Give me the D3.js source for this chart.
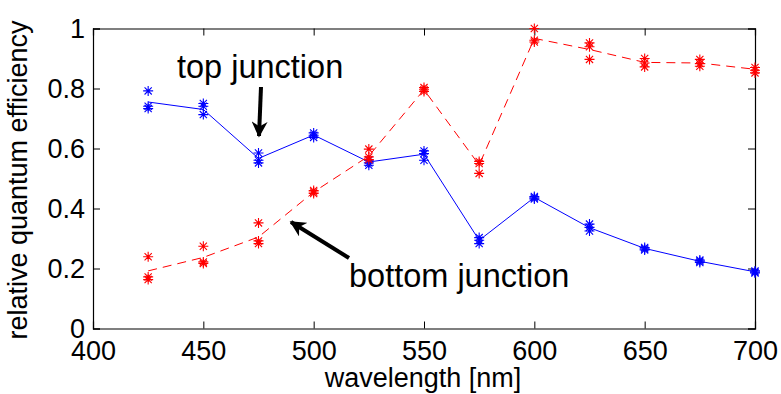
<!DOCTYPE html>
<html>
<head>
<meta charset="utf-8">
<script src="https://cdn.jsdelivr.net/npm/d3@7"></script>
<style>
  body { margin: 0; background: #fff; }
  svg text { font-family: "Liberation Sans", Arial, sans-serif; fill: #000; }
</style>
</head>
<body>
<div id="chart"></div>
<script>
// wavelengths of the measurements [nm]
var wavelengths = [425, 450, 475, 500, 525, 550, 575, 600, 625, 650, 675, 700];

// top junction: line and the three measured points at each wavelength
var topLine = [0.755, 0.730, 0.567, 0.645, 0.555, 0.581, 0.294, 0.437, 0.336, 0.267, 0.224, 0.189];
var topRun1 = [0.792, 0.750, 0.585, 0.652, 0.561, 0.592, 0.303, 0.440, 0.348, 0.270, 0.228, 0.192];
var topRun2 = [0.741, 0.741, 0.561, 0.644, 0.552, 0.583, 0.294, 0.436, 0.337, 0.266, 0.224, 0.188];
var topRun3 = [0.733, 0.713, 0.552, 0.637, 0.544, 0.561, 0.283, 0.432, 0.325, 0.262, 0.220, 0.185];

// bottom junction
var bottomLine = [0.192, 0.237, 0.305, 0.455, 0.575, 0.796, 0.545, 0.967, 0.930, 0.887, 0.885, 0.864];
var bottomRun1 = [0.239, 0.274, 0.352, 0.460, 0.598, 0.803, 0.557, 1.000, 0.952, 0.900, 0.897, 0.870];
var bottomRun2 = [0.172, 0.222, 0.292, 0.455, 0.572, 0.796, 0.550, 0.961, 0.939, 0.885, 0.883, 0.861];
var bottomRun3 = [0.163, 0.217, 0.283, 0.450, 0.563, 0.790, 0.517, 0.955, 0.897, 0.872, 0.874, 0.852];

var xTicks = [400, 450, 500, 550, 600, 650, 700];
var yTicks = [0, 0.2, 0.4, 0.6, 0.8, 1];

var svgWidth = 781;
var svgHeight = 394;
// plot box (note: "top" is a reserved window global, so use plotTop etc.)
var plotLeft = 93, plotRight = 755, plotTop = 28.5, plotBottom = 328.5;

var svg = d3.select('#chart').append('svg')
  .attr('width', svgWidth)
  .attr('height', svgHeight);

var xScale = d3.scaleLinear().domain([400, 700]).range([plotLeft, plotRight]);
var yScale = d3.scaleLinear().domain([0, 1]).range([plotBottom, plotTop]);

// axes, MATLAB style: ticks pointing inwards on all four sides
var tickLen = 7;
var fontSize = 27;

var xBottom = svg.append('g')
  .attr('transform', 'translate(0,' + plotBottom + ')')
  .call(d3.axisBottom(xScale).tickValues(xTicks).tickSize(-tickLen).tickPadding(12).tickFormat(d3.format('d')));
var xTop = svg.append('g')
  .attr('transform', 'translate(0,' + plotTop + ')')
  .call(d3.axisTop(xScale).tickValues(xTicks).tickSize(-tickLen).tickFormat(''));
var yLeft = svg.append('g')
  .attr('transform', 'translate(' + plotLeft + ',0)')
  .call(d3.axisLeft(yScale).tickValues(yTicks).tickSize(-tickLen).tickPadding(8).tickFormat(d3.format('')));
var yRight = svg.append('g')
  .attr('transform', 'translate(' + plotRight + ',0)')
  .call(d3.axisRight(yScale).tickValues(yTicks).tickSize(-tickLen).tickFormat(''));

[xBottom, xTop, yLeft, yRight].forEach(function(g) {
  g.select('.domain').attr('stroke', '#000').attr('stroke-width', 1.2);
  g.selectAll('.tick line').attr('stroke', '#000').attr('stroke-width', 1);
  g.selectAll('.tick text').attr('font-size', fontSize).attr('font-family', '"Liberation Sans", Arial, sans-serif');
});

// axis labels
svg.append('text')
  .attr('x', (plotLeft + plotRight) / 2 - 1)
  .attr('y', 387)
  .attr('text-anchor', 'middle')
  .attr('font-size', fontSize)
  .text('wavelength [nm]');

svg.append('text')
  .attr('transform', 'translate(27,' + 180 + ') rotate(-90)')
  .attr('text-anchor', 'middle')
  .attr('font-size', fontSize)
  .text('relative quantum efficiency');

// lines
var line = d3.line()
  .x(function(d, i) { return xScale(wavelengths[i]); })
  .y(function(d) { return yScale(d); });

svg.append('path')
  .datum(topLine)
  .attr('d', line)
  .attr('fill', 'none')
  .attr('stroke', '#0000ff')
  .attr('stroke-width', 1);

svg.append('path')
  .datum(bottomLine)
  .attr('d', line)
  .attr('fill', 'none')
  .attr('stroke', '#ff0000')
  .attr('stroke-width', 1)
  .attr('stroke-dasharray', '9,6');

// asterisk markers ('+' and 'x' overlaid)
var r = 5, rd = 3.6;
var star = 'M' + (-r) + ',0H' + r + 'M0,' + (-r) + 'V' + r +
  'M' + (-rd) + ',' + (-rd) + 'L' + rd + ',' + rd +
  'M' + (-rd) + ',' + rd + 'L' + rd + ',' + (-rd);

var drawMarkers = function(runs, color) {
  runs.forEach(function(run) {
    svg.append('g').selectAll('path')
      .data(run)
      .enter()
      .append('path')
      .attr('transform', function(d, i) {
        return 'translate(' + xScale(wavelengths[i]) + ',' + yScale(d) + ')';
      })
      .attr('d', star)
      .attr('fill', 'none')
      .attr('stroke', color)
      .attr('stroke-width', 1.1);
  });
};

drawMarkers([topRun1, topRun2, topRun3], '#0000ff');
drawMarkers([bottomRun1, bottomRun2, bottomRun3], '#ff0000');

// annotations with arrows
svg.append('defs').append('marker')
  .attr('id', 'head')
  .attr('viewBox', '0 0 10 10')
  .attr('refX', 9)
  .attr('refY', 5)
  .attr('markerUnits', 'userSpaceOnUse')
  .attr('markerWidth', 16)
  .attr('markerHeight', 16)
  .attr('orient', 'auto')
  .append('path')
  .attr('d', 'M0,0L10,5L0,10L3,5Z')
  .attr('fill', '#000');

svg.append('text')
  .attr('x', 177)
  .attr('y', 78)
  .attr('font-size', 32.5)
  .text('top junction');

svg.append('line')
  .attr('x1', 261).attr('y1', 87)
  .attr('x2', 259).attr('y2', 136)
  .attr('stroke', '#000')
  .attr('stroke-width', 4)
  .attr('marker-end', 'url(#head)');

svg.append('text')
  .attr('x', 349)
  .attr('y', 287)
  .attr('font-size', 32.5)
  .text('bottom junction');

svg.append('line')
  .attr('x1', 349).attr('y1', 258)
  .attr('x2', 291).attr('y2', 222)
  .attr('stroke', '#000')
  .attr('stroke-width', 4)
  .attr('marker-end', 'url(#head)');
</script>
</body>
</html>
